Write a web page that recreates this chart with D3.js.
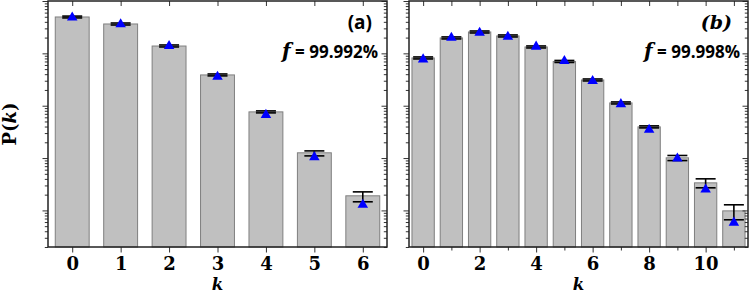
<!DOCTYPE html>
<html>
<head>
<meta charset="utf-8">
<script src="https://cdn.jsdelivr.net/npm/d3@7"></script>
<style>
  html, body { margin: 0; padding: 0; background: #fff; }
  svg { display: block; }
  .tick text { font-family: "DejaVu Serif", serif; font-weight: bold; font-size: 18px; fill: #000; }
</style>
</head>
<body>
<div id="chart"></div>
<script>
// panel (a)
let kA      = [0, 1, 2, 3, 4, 5, 6];
let barsA   = [0.495, 0.364, 0.138, 0.0387, 0.00762, 0.00126, 0.00019];
let triA    = [0.484, 0.359, 0.138, 0.0357, 0.00667, 0.00104, 0.000128];
let errLoA  = [0.475, 0.348, 0.1324, 0.0371, 0.00729, 0.0011, 0.000146];
let errHiA  = [0.515, 0.380, 0.1446, 0.0404, 0.00796, 0.00137, 0.000226];
let labelsA = ["0", "1", "2", "3", "4", "5", "6"];

// panel (b)
let kB      = [0, 1, 2, 3, 4, 5, 6, 7, 8, 9, 10, 11];
let barsB   = [0.0817, 0.197, 0.256, 0.215, 0.1325, 0.070, 0.031, 0.0113, 0.00394, 0.00101, 0.000336, 0.000098];
let triB    = [0.0768, 0.199, 0.247, 0.207, 0.134, 0.0713, 0.0296, 0.0107, 0.00347, 0.00098, 0.000251, 0.0000585];
let errLoB  = [0.0782, 0.1885, 0.245, 0.2057, 0.1268, 0.067, 0.0297, 0.0108, 0.00377, 0.000895, 0.00027, 0.0000662];
let errHiB  = [0.0854, 0.206, 0.2675, 0.2247, 0.1385, 0.0732, 0.0324, 0.0118, 0.00412, 0.00112, 0.000401, 0.000128];
let labelsB = ["0", "", "2", "", "4", "", "6", "", "8", "", "10", ""];

let W = 750, H = 294;
let yTop = 1, yBot = 247;

let svg = d3.select("#chart").append("svg")
	.attr("width", W)
	.attr("height", H);

let y = d3.scaleLog()
	.domain([2e-5, 1])
	.range([yBot, yTop]);

function isMajor(v) {
	let l = Math.log10(v);
	return Math.abs(l - Math.round(l)) < 1e-6;
}

function drawPanel(o) {
	let x = d3.scaleLinear()
		.domain([-0.5, o.k.length - 0.5])
		.range([o.x0, o.x1]);
	let step = x(1) - x(0);
	let bw = step * o.barFrac;

	let g = svg.append("g").attr("class", "panel");

	let data = o.k.map((k, i) => ({k: k, bar: o.bars[i], tri: o.tri[i], lo: o.lo[i], hi: o.hi[i], label: o.labels[i]}));

	// bars
	g.selectAll("rect.bar")
		.data(data)
		.enter().append("rect")
		.attr("class", "bar")
		.attr("x", (d) => x(d.k) - bw / 2)
		.attr("width", bw)
		.attr("y", (d) => y(d.bar))
		.attr("height", (d) => yBot - y(d.bar))
		.attr("fill", "#c0c0c0")
		.attr("stroke", "#7f7f7f")
		.attr("stroke-width", 1);

	// error bars
	let eb = g.selectAll("g.err")
		.data(data)
		.enter().append("g")
		.attr("class", "err")
		.attr("stroke", "#000")
		.attr("stroke-width", 1.6);
	eb.append("line")
		.attr("x1", (d) => x(d.k)).attr("x2", (d) => x(d.k))
		.attr("y1", (d) => y(d.hi)).attr("y2", (d) => y(d.lo));
	eb.append("line")
		.attr("x1", (d) => x(d.k) - 10).attr("x2", (d) => x(d.k) + 10)
		.attr("y1", (d) => y(d.hi)).attr("y2", (d) => y(d.hi));
	eb.append("line")
		.attr("x1", (d) => x(d.k) - 10).attr("x2", (d) => x(d.k) + 10)
		.attr("y1", (d) => y(d.lo)).attr("y2", (d) => y(d.lo));

	// triangles
	g.selectAll("path.tri")
		.data(data)
		.enter().append("path")
		.attr("class", "tri")
		.attr("d", d3.symbol().type(d3.symbolTriangle).size(48))
		.attr("transform", (d) => "translate(" + x(d.k) + "," + y(d.tri) + ")")
		.attr("fill", "#0000ff");

	// axes
	let yt = y.ticks();
	let fixY = (sel) => {
		sel.select(".domain").remove();
		sel.selectAll(".tick line")
			.attr("x2", (v) => isMajor(v) ? -5.5 : -3.2)
			.attr("stroke", "#333")
			.attr("stroke-width", 1);
	};
	g.append("g")
		.attr("transform", "translate(" + o.x0 + ",0)")
		.call(d3.axisLeft(y).tickValues(yt).tickFormat(""))
		.call(fixY);
	g.append("g")
		.attr("transform", "translate(" + o.x1 + ",0)")
		.call(d3.axisLeft(y).tickValues(yt).tickFormat(""))
		.call(fixY);

	let xb = g.append("g")
		.attr("transform", "translate(0," + yBot + ")")
		.call(d3.axisBottom(x).tickValues(o.k).tickFormat((v, i) => o.labels[i]).tickPadding(4.5));
	xb.select(".domain").remove();
	xb.selectAll(".tick line")
		.attr("y2", (v, i) => o.labels[i] !== "" ? 5.5 : 3.5)
		.attr("stroke", "#333");

	let xt = g.append("g")
		.attr("transform", "translate(0," + yTop + ")")
		.call(d3.axisBottom(x).tickValues(o.k).tickFormat("").tickSize(5));
	xt.select(".domain").remove();
	xt.selectAll(".tick line").attr("stroke", "#333");

	// frame
	g.append("rect")
		.attr("x", o.x0)
		.attr("y", yTop)
		.attr("width", o.x1 - o.x0)
		.attr("height", yBot - yTop)
		.attr("fill", "none")
		.attr("stroke", "#222")
		.attr("stroke-width", 1.5);

	// k label
	g.append("text")
		.attr("x", (o.x0 + o.x1) / 2)
		.attr("y", 290)
		.attr("text-anchor", "middle")
		.style("font-family", "DejaVu Serif, serif")
		.style("font-weight", "bold")
		.style("font-style", "italic")
		.style("font-size", "16.5px")
		.text("k");

	// panel tag
	g.append("text")
		.attr("x", o.tagX)
		.attr("y", 29)
		.attr("text-anchor", "end")
		.style("font-family", o.tagFont)
		.style("font-weight", "bold")
		.style("font-style", o.tagStyle)
		.style("font-size", "19px")
		.text(o.tag);

	// fidelity
	let ft = g.append("text")
		.attr("x", o.fX)
		.attr("y", 58)
		.attr("text-anchor", "end")
		.style("font-weight", "bold")
		.style("font-size", "18px");
	ft.append("tspan")
		.style("font-family", "DejaVu Serif, serif")
		.style("font-style", "italic")
		.style("font-size", "20px")
		.text("f");
	ft.append("tspan")
		.style("font-family", "Open Sans, sans-serif")
		.style("font-size", "17px")
		.text(" = " + o.fid);
}

drawPanel({
	k: kA, bars: barsA, tri: triA, lo: errLoA, hi: errHiA, labels: labelsA,
	x0: 48, x1: 387, barFrac: 0.7,
	tag: "(a)", tagX: 372, tagFont: "Open Sans, sans-serif", tagStyle: "normal",
	fid: "99.992%", fX: 378
});

drawPanel({
	k: kB, bars: barsB, tri: triB, lo: errLoB, hi: errHiB, labels: labelsB,
	x0: 409, x1: 748, barFrac: 0.79,
	tag: "(b)", tagX: 732, tagFont: "DejaVu Serif, serif", tagStyle: "italic",
	fid: "99.998%", fX: 740
});

// y label
let yl = svg.append("text")
	.attr("transform", "translate(16," + ((yTop + yBot) / 2) + ") rotate(-90)")
	.attr("text-anchor", "middle")
	.style("font-family", "DejaVu Serif, serif")
	.style("font-weight", "bold")
	.style("font-size", "18px");
yl.append("tspan").text("P(");
yl.append("tspan").style("font-style", "italic").text("k");
yl.append("tspan").text(")");
</script>
</body>
</html>
